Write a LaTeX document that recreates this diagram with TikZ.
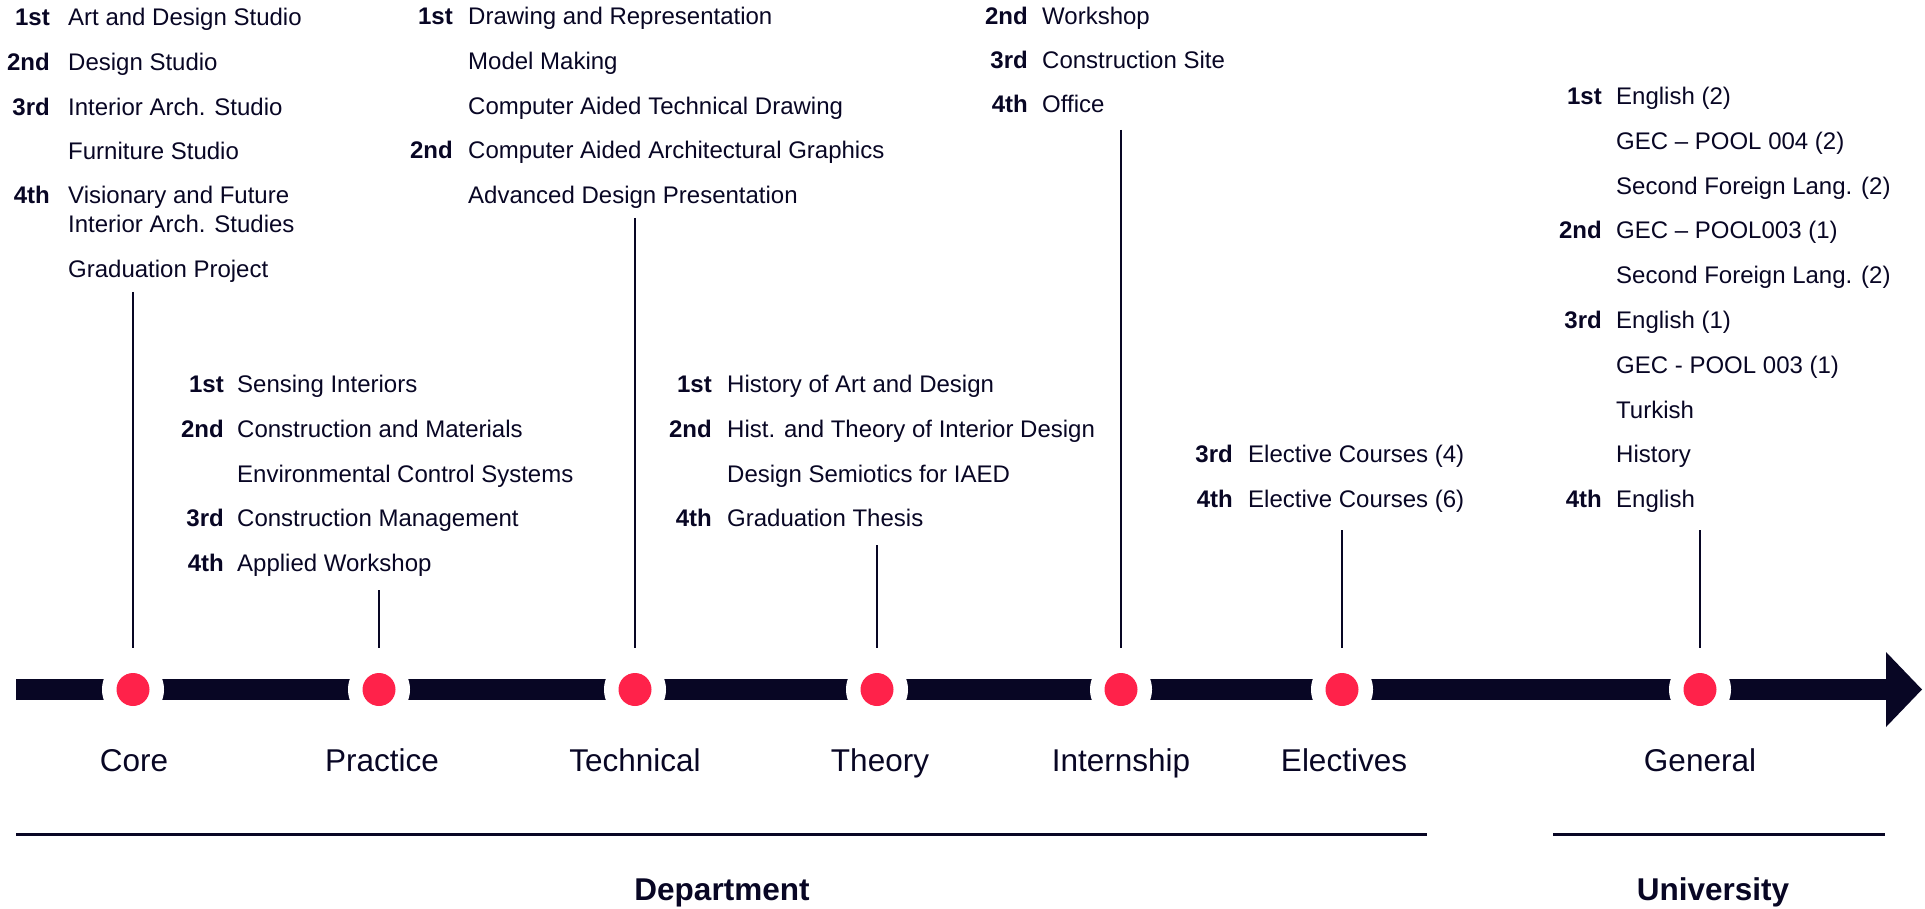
\documentclass[tikz,border=0pt]{standalone}
\usepackage{fontspec}
\setmainfont{Liberation Sans}
\definecolor{ink}{RGB}{8,6,36}
\definecolor{dotred}{RGB}{255,34,74}
\begin{document}
\begin{tikzpicture}[x=1pt,y=-1pt,
  course/.style={anchor=base west,inner sep=0pt,text=ink,font=\fontsize{24}{28}\selectfont},
  yr/.style={anchor=base east,inner sep=0pt,text=ink,font=\fontsize{24}{28}\selectfont\bfseries},
  cat/.style={anchor=base,inner sep=0pt,text=ink,font=\fontsize{31.5}{36}\selectfont},
  grp/.style={anchor=base,inner sep=0pt,text=ink,font=\fontsize{31.5}{36}\selectfont\bfseries},
  ring/.style={circle,fill=white,minimum size=62pt,inner sep=0pt},
  dot/.style={circle,fill=dotred,minimum size=33pt,inner sep=0pt},
  stem/.style={draw=ink,line width=2pt},
  rule/.style={draw=ink,line width=3pt}]
\useasboundingbox (0,0) rectangle (1925,909);
% timeline bar with arrow head
\fill[ink] (16,679) rectangle (1887,700);
\fill[ink] (1886,652) -- (1922,689.5) -- (1886,727) -- cycle;
% points
\foreach \n/\x in {core/133,practice/379,technical/635,theory/877,internship/1121,electives/1342,general/1700}{
  \node[ring] (\n ring) at (\x,689.5) {};
  \node[dot] (\n) at (\x,689.5) {};
}
% stems
\foreach \n/\x/\t in {core/133/292,practice/379/590,technical/635/218,theory/877/545,internship/1121/130,electives/1342/530,general/1700/530}{
  \coordinate (\n top) at (\x,\t);
  \coordinate (\n bot) at (\x,648);
  \draw[stem] (\n top) -- (\n bot);
}
% category labels
\node[cat] (lcore) at (134,771) {Core};
\node[cat] (lpractice) at (382,771) {Practice};
\node[cat] (ltechnical) at (635,771) {Technical};
\node[cat] (ltheory) at (880,771) {Theory};
\node[cat] (linternship) at (1121,771) {Internship};
\node[cat] (lelectives) at (1344,771) {Electives};
\node[cat] (lgeneral) at (1700,771) {General};
% group rules
\coordinate (dL) at (16,834); \coordinate (dR) at (1427,834);
\coordinate (uL) at (1553,834); \coordinate (uR) at (1885,834);
\draw[rule] (dL) -- (dR);
\draw[rule] (uL) -- (uR);
\node[grp] (dept) at (722,900) {Department};
\node[grp] (univ) at (1713,900) {University};
% Core block
\node[yr] (c1y) at (50,26) {1st};
\node[course] (c1) at (68,26) {Art and Design Studio};
\node[yr] (c2y) at (50,71) {2nd};
\node[course] (c2) at (68,71) {Design Studio};
\node[yr] (c3y) at (50,116) {3rd};
\node[course] (c3) at (68,116) {Interior Arch. Studio};
\node[course] (c4) at (68,160) {Furniture Studio};
\node[yr] (c5y) at (50,204) {4th};
\node[course] (c5) at (68,204) {Visionary and Future};
\node[course] (c5b) at (68,233) {Interior Arch. Studies};
\node[course] (c6) at (68,278) {Graduation Project};
% Practice block
\node[yr] (p1y) at (224,392) {1st};
\node[course] (p1) at (237,392) {Sensing Interiors};
\node[yr] (p2y) at (224,437) {2nd};
\node[course] (p2) at (237,437) {Construction and Materials};
\node[course] (p3) at (237,482) {Environmental Control Systems};
\node[yr] (p4y) at (224,526) {3rd};
\node[course] (p4) at (237,526) {Construction Management};
\node[yr] (p5y) at (224,571) {4th};
\node[course] (p5) at (237,571) {Applied Workshop};
% Technical block
\node[yr] (t1y) at (453,25) {1st};
\node[course] (t1) at (468,25) {Drawing and Representation};
\node[course] (t2) at (468,70) {Model Making};
\node[course] (t3) at (468,115) {Computer Aided Technical Drawing};
\node[yr] (t4y) at (453,159) {2nd};
\node[course] (t4) at (468,159) {Computer Aided Architectural Graphics};
\node[course] (t5) at (468,204) {Advanced Design Presentation};
% Theory block
\node[yr] (h1y) at (712,392) {1st};
\node[course] (h1) at (727,392) {History of Art and Design};
\node[yr] (h2y) at (712,437) {2nd};
\node[course] (h2) at (727,437) {Hist. and Theory of Interior Design};
\node[course] (h3) at (727,482) {Design Semiotics for IAED};
\node[yr] (h4y) at (712,526) {4th};
\node[course] (h4) at (727,526) {Graduation Thesis};
% Internship block
\node[yr] (i1y) at (1028,25) {2nd};
\node[course] (i1) at (1042,25) {Workshop};
\node[yr] (i2y) at (1028,69) {3rd};
\node[course] (i2) at (1042,69) {Construction Site};
\node[yr] (i3y) at (1028,113) {4th};
\node[course] (i3) at (1042,113) {Office};
% Electives block
\node[yr] (e1y) at (1233,462) {3rd};
\node[course] (e1) at (1248,462) {Elective Courses (4)};
\node[yr] (e2y) at (1233,507) {4th};
\node[course] (e2) at (1248,507) {Elective Courses (6)};
% General block
\node[yr] (g1y) at (1602,105) {1st};
\node[course] (g1) at (1616,105) {English (2)};
\node[course] (g2) at (1616,150) {GEC – POOL 004 (2)};
\node[course] (g3) at (1616,195) {Second Foreign Lang. (2)};
\node[yr] (g4y) at (1602,239) {2nd};
\node[course] (g4) at (1616,239) {GEC – POOL003 (1)};
\node[course] (g5) at (1616,284) {Second Foreign Lang. (2)};
\node[yr] (g6y) at (1602,328) {3rd};
\node[course] (g6) at (1616,328) {English (1)};
\node[course] (g7) at (1616,373) {GEC - POOL 003 (1)};
\node[course] (g8) at (1616,418) {Turkish};
\node[course] (g9) at (1616,462) {History};
\node[yr] (g10y) at (1602,507) {4th};
\node[course] (g10) at (1616,507) {English};
\end{tikzpicture}
\end{document}
